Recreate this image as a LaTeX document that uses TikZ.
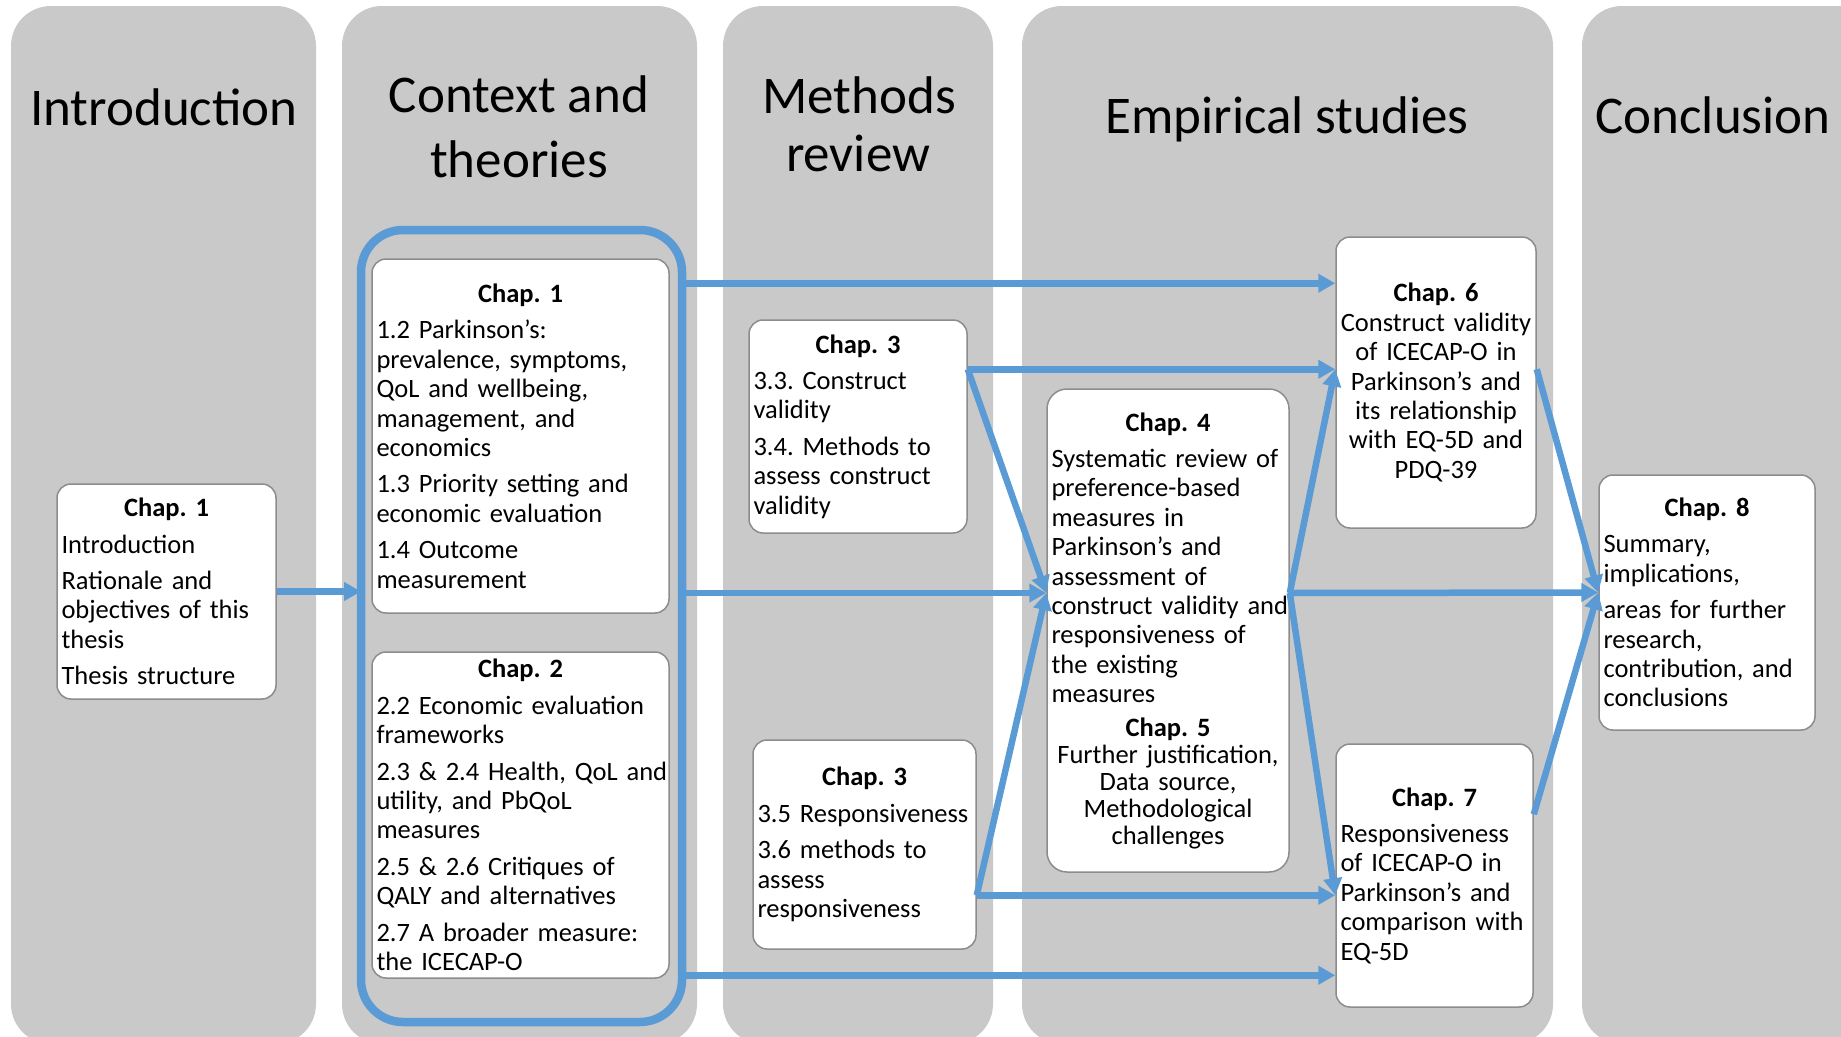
\documentclass[tikz,border=0pt]{standalone}
\usepackage{fontspec}
\setmainfont{Carlito}
\frenchspacing
\usetikzlibrary{arrows.meta,calc}
\definecolor{colgray}{RGB}{201,201,201}
\definecolor{lblue}{RGB}{91,155,213}
\definecolor{boxgray}{RGB}{140,140,140}
\newcommand\bxl[1]{\noindent\makebox[\hsize][l]{#1}\par}
\newcommand\bxc[1]{\noindent\makebox[\hsize][c]{#1}\par}
\newcommand\bxh[1]{\bxc{\bfseries #1}}
\newcommand\bxg[1][7pt]{\vskip #1\relax}
\begin{document}
\begin{tikzpicture}[x=1pt,y=-1pt,
  box/.style={draw=boxgray, line width=1.5pt, fill=white, rounded corners=14pt,
    inner xsep=4.5pt, inner ysep=0pt, font=\fontsize{26.5pt}{29.4pt}\selectfont\frenchspacing},
  head/.style={anchor=base, inner sep=0pt, font=\fontsize{53pt}{62pt}\selectfont},
  arr/.style={draw=lblue, line width=6.5pt, -{Triangle[length=17pt,width=18pt]}},
  frm/.style={draw=lblue, line width=8.5pt, rounded corners=42pt, inner sep=0pt, outer sep=0pt}
]
\useasboundingbox (0,0) rectangle (1841,1036);
\begin{scope}
  \clip (0,0) rectangle (1841,1036);
  \fill[colgray, rounded corners=40pt] (11,6) rectangle (316,1044);
  \fill[colgray, rounded corners=40pt] (342,6) rectangle (697,1044);
  \fill[colgray, rounded corners=40pt] (723,6) rectangle (993,1044);
  \fill[colgray, rounded corners=40pt] (1022,6) rectangle (1553,1044);
  \fill[colgray, rounded corners=40pt] (1582,6) rectangle (1900,1044);
\end{scope}

% headings
\node[head] (hintro) at (164,125) {Introduction};
\node[head] (hctxa) at (519,112) {Context and};
\node[head] (hctxb) at (519,177) {theories};
\node[head] (hmeta) at (859,113) {Methods};
\node[head] (hmetb) at (858,171) {review};
\node[head] (hemp) at (1287,133) {Empirical studies};
\node[head] (hcon) at (1713,133) {Conclusion};

% blue frame
\node[frm, minimum width=321pt, minimum height=792pt] (frame) at (521.5,626) {};

% boxes
\node[box, text width=210pt, minimum height=215pt] (intro) at (166.5,591.5) {%
\bxh{Chap. 1}\bxg
\bxl{Introduction}\bxg
\bxl{Rationale and}
\bxl{objectives of this}
\bxl{thesis}\bxg
\bxl{Thesis structure}};

\node[box, text width=288pt, minimum height=354pt] (ct1) at (520.5,436) {%
\bxh{Chap. 1}\bxg
\bxl{1.2 Parkinson’s:}
\bxl{prevalence, symptoms,}
\bxl{QoL and wellbeing,}
\bxl{management, and}
\bxl{economics}\bxg
\bxl{1.3 Priority setting and}
\bxl{economic evaluation}\bxg
\bxl{1.4 Outcome}
\bxl{measurement}};

\node[box, text width=288pt, minimum height=326pt] (ct2) at (520.5,815) {%
\bxh{Chap. 2}\bxg
\bxl{2.2 Economic evaluation}
\bxl{frameworks}\bxg
\bxl{2.3 \& 2.4 Health, QoL and}
\bxl{utility, and PbQoL}
\bxl{measures}\bxg
\bxl{2.5 \& 2.6 Critiques of}
\bxl{QALY and alternatives}\bxg
\bxl{2.7 A broader measure:}
\bxl{the ICECAP-O}};

\node[box, text width=209pt, minimum height=213pt] (m3a) at (858,426.5) {%
\bxh{Chap. 3}\bxg
\bxl{3.3. Construct}
\bxl{validity}\bxg
\bxl{3.4. Methods to}
\bxl{assess construct}
\bxl{validity}};

\node[box, text width=214pt, minimum height=209pt] (m3b) at (864.5,844.5) {%
\bxh{Chap. 3}\bxg
\bxl{3.5 Responsiveness}\bxg
\bxl{3.6 methods to}
\bxl{assess}
\bxl{responsiveness}};

\node[box, text width=233pt, minimum height=483pt, rounded corners=20pt] (c4) at (1168,630.5) {%
\vspace*{2pt}%
\bxh{Chap. 4}\bxg[5pt]
\bxl{Systematic review of}
\bxl{preference-based}
\bxl{measures in}
\bxl{Parkinson’s and}
\bxl{assessment of}
\bxl{construct validity and}
\bxl{responsiveness of}
\bxl{the existing}
\bxl{measures}\bxg[4pt]
\bxh{Chap. 5}
\baselineskip=27pt
\bxc{Further justification,}
\bxc{Data source,}
\bxc{Methodological}
\bxc{challenges}};

\node[box, text width=191pt, minimum height=291pt] (c6) at (1436,382.5) {%
\bxh{Chap. 6}
\bxc{Construct validity}
\bxc{of ICECAP-O in}
\bxc{Parkinson’s and}
\bxc{its relationship}
\bxc{with EQ-5D and}
\bxc{PDQ-39}};

\node[box, text width=188pt, minimum height=263pt] (c7) at (1434.5,875.5) {%
\bxh{Chap. 7}\bxg
\bxl{Responsiveness}
\bxl{of ICECAP-O in}
\bxl{Parkinson’s and}
\bxl{comparison with}
\bxl{EQ-5D}};

\node[box, text width=207pt, minimum height=255pt] (c8) at (1707,602.5) {%
\bxh{Chap. 8}\bxg
\bxl{Summary,}
\bxl{implications,}\bxg
\bxl{areas for further}
\bxl{research,}
\bxl{contribution, and}
\bxl{conclusions}};

% connector end points
\coordinate (c4in) at ([yshift=37.5pt]c4.west);
\coordinate (c4out) at ([yshift=37.5pt]c4.east);
\coordinate (c8in) at ([yshift=10pt]c8.west);
\coordinate (c6in1) at ([yshift=-47pt]c6.north west);
\coordinate (c6in2) at ([yshift=-133pt]c6.north west);
\coordinate (c6out) at ([yshift=-133pt]c6.north east);
\coordinate (c7in1) at ([yshift=-152pt]c7.north west);
\coordinate (c7in2) at ([yshift=-232pt]c7.north west);
\coordinate (c7out) at ([yshift=-71pt]c7.north east);
\coordinate (m3aout) at ([yshift=-50pt]m3a.north east);
\coordinate (m3bout) at ([yshift=-156pt]m3b.north east);

% connectors
\draw[arr] (intro.east) -- (intro.east -| frame.west);
\draw[arr] (frame.east |- c6in1) -- (c6in1);
\draw[arr] (frame.east |- c4in) -- (c4in);
\draw[arr] (frame.east |- c7in2) -- (c7in2);
\draw[arr] (m3aout) -- (c6in2);
\draw[arr] (m3aout) -- (c4in);
\draw[arr] (m3bout) -- (c4in);
\draw[arr] (m3bout) -- (c7in1);
\draw[arr] (c4out) -- (c6in2);
\draw[arr] (c4out) -- (c7in1);
\draw[arr] (c4out) -- (c8in);
\draw[arr] (c6out) -- (c8in);
\draw[arr] (c7out) -- (c8in);
\end{tikzpicture}
\end{document}
